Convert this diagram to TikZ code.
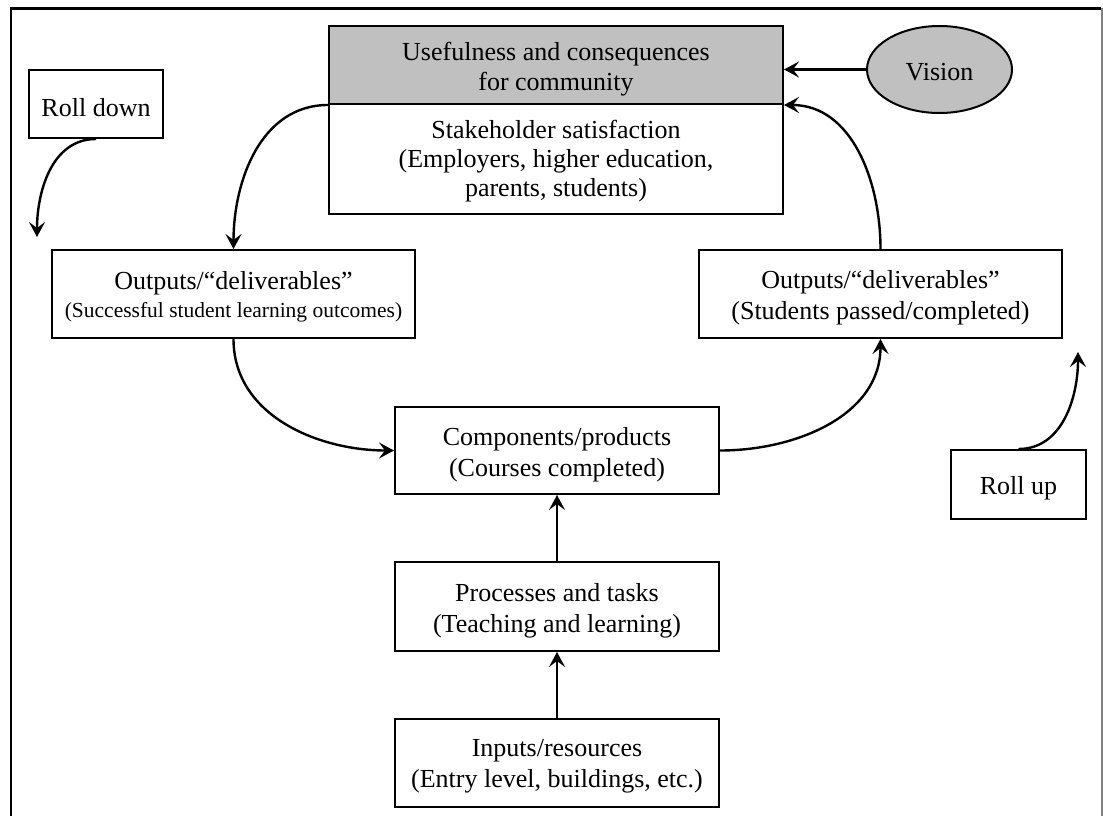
\documentclass[tikz,border=0pt]{standalone}
\usepackage{fontspec}
\setmainfont{Liberation Serif}
\usetikzlibrary{arrows.meta,shapes.geometric}

\begin{document}
\begin{tikzpicture}[x=1pt,y=-1pt,
  every node/.style={inner sep=0pt,align=center},
  txt/.style={font=\fontsize{26}{31}\selectfont},
  box/.style={draw,line width=2pt,fill=white},
  shaded/.style={box,fill=shadegray},
  arr/.style={line width=2.4pt,-{Stealth[length=15pt,width=16pt,inset=6pt]}}
]
\definecolor{shadegray}{RGB}{192,192,192}
\useasboundingbox (0,0) rectangle (1103,816);

% open frame round the figure
\draw[line width=2.4pt] (11,816) -- (11,8.5) -- (1101,8.5);
\draw[line width=1.6pt,gray] (1102,8.5) -- (1102,816);

% top block: community and stakeholders
\node[shaded,minimum width=454pt,minimum height=78pt] (useful) at (556,65) {};
\node[txt,font=\fontsize{26}{30}\selectfont] (useful-t) at ([yshift=-4pt]useful.center)
  {Usefulness and consequences\\for community};
\node[box,minimum width=454pt,minimum height=110pt] (stake) at (556,159) {};
\node[txt,font=\fontsize{26}{29}\selectfont] (stake-t) at ([yshift=-2pt]stake.center)
  {Stakeholder satisfaction\\(Employers, higher education,\\parents, students)};

\node[ellipse,draw,line width=2pt,fill=shadegray,
  minimum width=145pt,minimum height=87pt] (vision) at (939.5,69.5) {};
\node[txt] (vision-t) at ([yshift=-3pt]vision.center) {Vision};

% outputs on both sides
\node[box,minimum width=363pt,minimum height=88pt] (outL) at (233.5,294) {};
\node[txt,font=\fontsize{26}{28}\selectfont] (outL-t) at ([yshift=-3pt]outL.center)
  {Outputs/“deliverables”\\{\fontsize{21.5}{26}\selectfont(Successful student learning outcomes)}};
\node[box,minimum width=363pt,minimum height=88pt] (outR) at (880.5,294) {};
\node[txt] (outR-t) at ([yshift=-4pt]outR.center)
  {Outputs/“deliverables”\\(Students passed/completed)};

% central chain
\node[box,minimum width=324pt,minimum height=87pt] (comp) at (557,450.5) {};
\node[txt] (comp-t) at ([yshift=-4pt]comp.center)
  {Components/products\\(Courses completed)};
\node[box,minimum width=324pt,minimum height=89pt] (proc) at (557,606.5) {};
\node[txt] (proc-t) at ([yshift=-4pt]proc.center)
  {Processes and tasks\\(Teaching and learning)};
\node[box,minimum width=324pt,minimum height=88pt] (inp) at (557,763) {};
\node[txt] (inp-t) at ([yshift=-3pt]inp.center)
  {Inputs/resources\\(Entry level, buildings, etc.)};

% roll labels
\node[box,minimum width=134pt,minimum height=68pt] (rolldown) at (96,104) {};
\node[txt] (rolldown-t) at ([yshift=-4pt]rolldown.center) {Roll down};
\node[box,minimum width=135pt,minimum height=69pt] (rollup) at (1018.5,484.5) {};
\node[txt] (rollup-t) at ([yshift=-4pt]rollup.center) {Roll up};
\coordinate (downend) at (37,237);
\coordinate (upend) at (1078,352);

% connectors
\draw[arr] (vision.west) -- (vision.west -| useful.east);
\draw[arr] (outR.north) to[out=90,in=0] (useful.south east);
\draw[arr] (useful.south west) to[out=180,in=90] (outL.north);
\draw[arr] (outL.south) to[out=-90,in=180] (comp.west);
\draw[arr] (comp.east) to[out=0,in=-90] (outR.south);
\draw[arr] (proc.north) -- (comp.south);
\draw[arr] (inp.north) -- (proc.south);
\draw[arr] (rolldown.south) to[out=180,in=90] (downend);
\draw[arr] (rollup.north) to[out=0,in=-90] (upend);
\end{tikzpicture}
\end{document}
